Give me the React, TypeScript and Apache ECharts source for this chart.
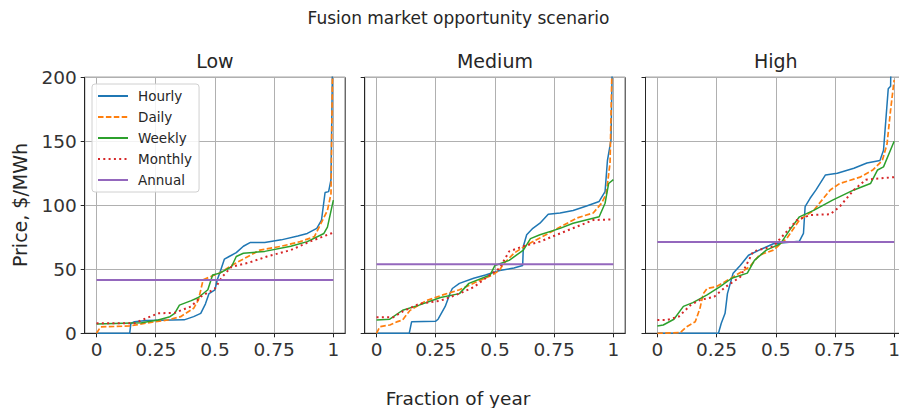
import React, { useEffect, useRef } from 'react';
import * as echarts from 'echarts';

const seriesNames = ['Hourly', 'Daily', 'Weekly', 'Monthly', 'Annual'];
const panelTitles = ['Low', 'Medium', 'High'];
const xTicks = [0, 0.25, 0.5, 0.75, 1];
const mainTitle = 'Fusion market opportunity scenario';
const xLabel = 'Fraction of year';
const yLabel = 'Price, $/MWh';

type P = [number, number][];

// ---- Low ----
const lowHourly: P = [[0,0],[0.14,0],[0.145,7.8],[0.16,9],[0.21,10],[0.37,10.5],[0.41,13],[0.44,15.6],[0.46,23],[0.475,31],[0.5,34],[0.51,42],[0.52,47],[0.54,58],[0.56,60],[0.59,63],[0.62,68],[0.65,71],[0.71,71],[0.78,73],[0.85,76],[0.89,78],[0.93,82],[0.95,88.5],[0.965,110],[0.98,110.7],[0.99,120],[1.0,260]];
const lowDaily: P = [[0,0],[0.017,5],[0.14,5.7],[0.21,8],[0.3,10.4],[0.355,13],[0.41,19.5],[0.43,26],[0.45,41.7],[0.49,45],[0.52,47],[0.57,53],[0.64,60],[0.69,65],[0.78,68],[0.86,71.6],[0.92,75.5],[0.94,83],[0.975,96],[0.99,109],[1.0,260]];
const lowWeekly: P = [[0,7.3],[0.19,8.3],[0.26,10.4],[0.31,13],[0.33,15.6],[0.35,22],[0.4,25.5],[0.43,28],[0.47,34],[0.49,45.6],[0.52,47],[0.57,52],[0.59,60],[0.62,62.5],[0.71,64],[0.82,68],[0.89,71.6],[0.96,78],[0.975,83],[1.0,104]];
const lowMonthly: P = [[0,7.8],[0.16,7.8],[0.2,11],[0.26,15.6],[0.33,16],[0.4,21],[0.44,28.6],[0.5,35],[0.53,44],[0.57,52],[0.64,55],[0.72,60],[0.82,65],[0.9,71.6],[0.99,78],[1.0,78.6]];
const lowAnnual: P = [[0,41.6],[1,41.6]];

// ---- Medium ----
const medHourly: P = [[0,0],[0.138,0],[0.148,9],[0.25,9.5],[0.26,11],[0.29,21],[0.31,31],[0.32,35],[0.35,39],[0.41,43],[0.46,45.6],[0.52,49],[0.58,51],[0.617,53],[0.62,68],[0.634,77],[0.66,82],[0.69,86],[0.725,93],[0.775,94],[0.83,96],[0.89,99.7],[0.94,103],[0.965,110.7],[0.975,135],[0.99,151],[1.0,260]];
const medDaily: P = [[0,0],[0.014,5.2],[0.056,6.5],[0.085,8.9],[0.11,10.4],[0.14,17.7],[0.21,25.5],[0.28,30],[0.35,34],[0.42,40],[0.49,45.6],[0.52,49.5],[0.535,54],[0.58,62.5],[0.634,69],[0.7,75.5],[0.775,83],[0.845,90],[0.915,94],[0.95,101.6],[0.97,109],[0.986,133],[1.0,260]];
const medWeekly: P = [[0,10.4],[0.056,11],[0.11,18],[0.18,22],[0.27,28],[0.35,31],[0.39,39],[0.48,45.6],[0.5,53],[0.56,57],[0.62,65],[0.65,74],[0.69,77],[0.775,82],[0.83,86],[0.94,91],[0.965,101.6],[0.98,117],[1.0,120]];
const medMonthly: P = [[0,12.5],[0.07,12.5],[0.11,17],[0.18,23],[0.27,25.5],[0.35,31],[0.41,36],[0.46,43],[0.52,51],[0.56,64],[0.62,68],[0.69,71.6],[0.775,78],[0.915,88.5],[1.0,89]];
const medAnnual: P = [[0,54],[1,54]];

// ---- High ----
const highHourly: P = [[0,0],[0.258,0],[0.27,7.8],[0.286,15.6],[0.296,31],[0.32,47],[0.35,53],[0.385,61],[0.43,65],[0.49,70],[0.6,72],[0.617,78],[0.624,99],[0.645,105.5],[0.67,112],[0.71,123.7],[0.76,125],[0.83,129],[0.885,133],[0.94,135],[0.955,143],[0.975,191],[0.985,193],[0.99,260]];
const highDaily: P = [[0,0],[0.096,0.5],[0.124,5.2],[0.16,9],[0.18,19.5],[0.194,31],[0.21,35],[0.25,36.5],[0.32,44],[0.39,52],[0.43,61],[0.49,65],[0.546,74],[0.6,88.5],[0.66,96],[0.73,112],[0.77,117],[0.856,122],[0.91,127.6],[0.95,135],[0.97,148],[0.985,174.5],[1.0,198]];
const highWeekly: P = [[0,5.7],[0.025,6.5],[0.07,11],[0.11,21],[0.15,24],[0.21,30],[0.265,36.5],[0.314,43],[0.38,47],[0.41,57],[0.46,65],[0.52,70],[0.56,81],[0.6,91],[0.66,96],[0.74,104],[0.83,112],[0.9,117],[0.93,127.6],[0.955,130],[1.0,150]];
const highMonthly: P = [[0,10.4],[0.04,10.4],[0.09,13],[0.14,22],[0.18,26],[0.24,28.6],[0.29,36.5],[0.35,44],[0.405,64],[0.49,68],[0.59,88.5],[0.645,92.4],[0.73,93],[0.77,99],[0.83,112],[0.88,120],[1.0,122]];
const highAnnual: P = [[0,71.3],[1,71.3]];

const panelData: P[][] = [
  [lowHourly, lowDaily, lowWeekly, lowMonthly, lowAnnual],
  [medHourly, medDaily, medWeekly, medMonthly, medAnnual],
  [highHourly, highDaily, highWeekly, highMonthly, highAnnual],
];

const FONT = 'DejaVu Sans';
const lineStyles: any[] = [
  { color: '#1f77b4', width: 1.5, type: 'solid' },
  { color: '#ff7f0e', width: 1.7, type: [5.5, 2.4] },
  { color: '#2ca02c', width: 1.5, type: 'solid' },
  { color: '#d62728', width: 2, type: [2, 3.3] },
  { color: '#9467bd', width: 2, type: 'solid' },
];

const gridLefts = [84.7, 364.7, 645.5];
const gridTop = 77.3;
const gridW = 260.5;
const gridH = 256;

export default function App() {
  const ref = useRef<HTMLDivElement>(null);
  useEffect(() => {
    document.body.style.margin = '0';
    const chart = echarts.init(ref.current!, null, { renderer: 'svg' });
    const grids = gridLefts.map((l) => ({
      left: l, top: gridTop, width: gridW, height: gridH,
      show: true, borderColor: '#262626', borderWidth: 1, backgroundColor: 'transparent',
      containLabel: false, outerBoundsMode: 'none',
    }));
    const xAxes = gridLefts.map((_, i) => ({
      type: 'value', gridIndex: i, min: -0.05, max: 1.05,
      axisLine: { show: true, onZero: false, lineStyle: { color: '#262626', width: 1 } },
      axisTick: { show: true, length: 4, customValues: xTicks, lineStyle: { color: '#262626' } },
      axisLabel: { show: true, customValues: xTicks, fontSize: 18.5, fontFamily: FONT, color: '#333', margin: 7,
        formatter: (v: number) => String(v) },
      splitLine: { show: true, customValues: xTicks, lineStyle: { color: '#b0b0b0', width: 1 } },
    }));
    const yAxes = gridLefts.map((_, i) => ({
      type: 'value', gridIndex: i, min: 0, max: 200, interval: 50,
      axisLine: { show: true, onZero: false, lineStyle: { color: '#262626', width: 1 } },
      axisTick: { show: true, length: 4, lineStyle: { color: '#262626' } },
      axisLabel: { show: i === 0, fontSize: 18.5, fontFamily: FONT, color: '#333', margin: 8 },
      splitLine: { show: true, lineStyle: { color: '#b0b0b0', width: 1 } },
    }));
    const series: any[] = [];
    panelData.forEach((arrs, i) => {
      arrs.forEach((d, k) => {
        series.push({
          type: 'line', name: seriesNames[k], xAxisIndex: i, yAxisIndex: i,
          data: d, symbol: 'none', showSymbol: false, clip: true, silent: true,
          color: lineStyles[k].color,
          lineStyle: lineStyles[k], z: 2 + k,
        });
      });
    });
    const graphic: any[] = [
      { type: 'text', x: 458.5, y: 18, style: { text: mainTitle, font: `17px "${FONT}"`, fill: '#262626', align: 'center', verticalAlign: 'middle' } },
      { type: 'text', x: 458, y: 398, style: { text: xLabel, font: `18.5px "${FONT}"`, fill: '#262626', align: 'center', verticalAlign: 'middle' } },
      { type: 'text', x: 19.5, y: 205, rotation: Math.PI / 2, style: { text: yLabel, font: `19px "${FONT}"`, fill: '#262626', align: 'center', verticalAlign: 'middle' } },
      ...panelTitles.map((t, i) => ({
        type: 'text', x: gridLefts[i] + gridW / 2, y: 60.5, style: { text: t, font: `19px "${FONT}"`, fill: '#262626', align: 'center', verticalAlign: 'middle' },
      })),
    ];
    chart.setOption({
      animation: false,
      backgroundColor: '#ffffff',
      grid: grids,
      xAxis: xAxes,
      yAxis: yAxes,
      series,
      legend: {
        show: true, orient: 'vertical', left: 92, top: 84, data: seriesNames,
        itemWidth: 30, itemHeight: 14, itemGap: 7, padding: [5, 7, 5, 5],
        backgroundColor: 'rgba(255,255,255,0.85)', borderColor: '#d0d0d0', borderWidth: 1, borderRadius: 3,
        itemStyle: { opacity: 0, borderWidth: 0 },
        textStyle: { fontSize: 13.5, fontFamily: FONT, color: '#262626', padding: [0, 0, 0, 5] },
        selectedMode: false,
      },
      graphic,
    });
    return () => chart.dispose();
  }, []);
  return <div ref={ref} style={{ position: 'absolute', left: 0, top: 0, width: 899, height: 408 }} />;
}
